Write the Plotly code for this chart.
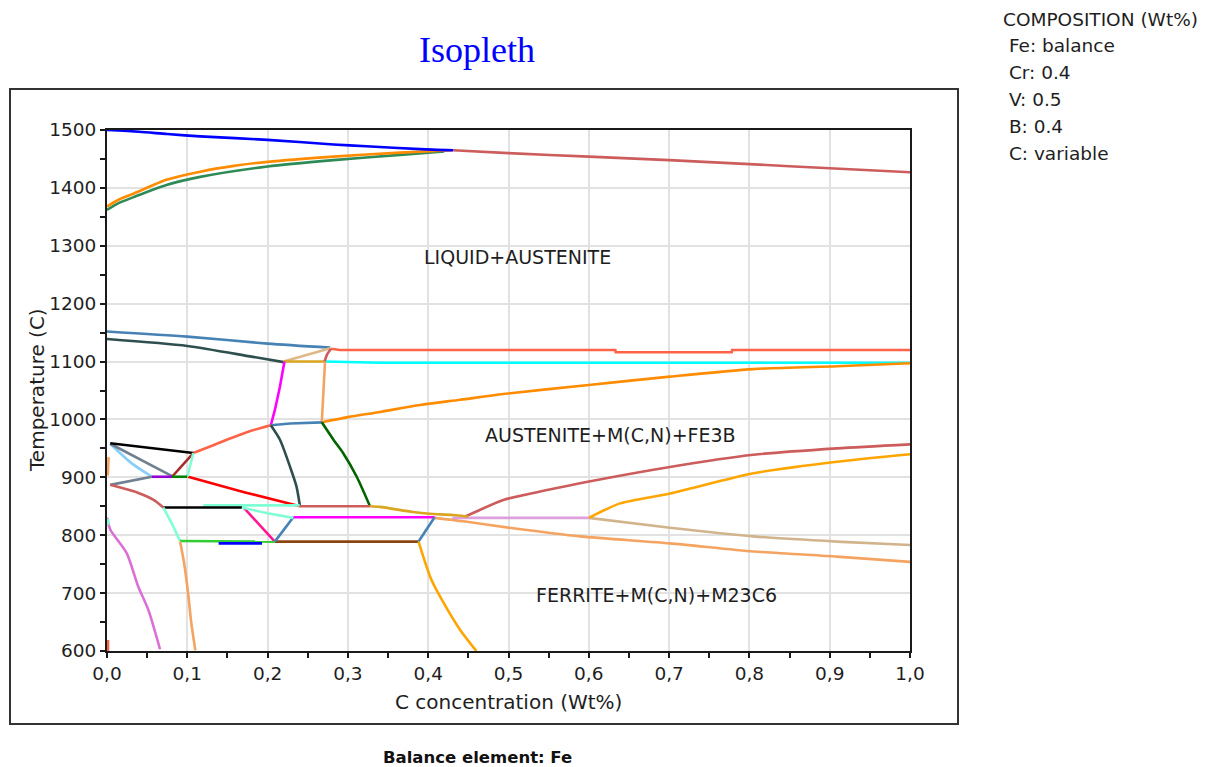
import plotly.graph_objects as go

# ---------------- data: C content (wt%) and temperature (C) per boundary ----------------
liq_top_x = [0, 0.04, 0.075, 0.116, 0.2, 0.282, 0.323, 0.39, 0.431]
liq_top_t = [1500, 1497, 1493, 1489, 1483, 1475, 1472, 1467, 1465]
liq_right_x = [0.431, 0.5, 0.6, 0.7, 0.8, 0.9, 1.0]
liq_right_t = [1465, 1460, 1454, 1448, 1441, 1434, 1427]
sol_orange_x = [0, 0.015, 0.033, 0.074, 0.116, 0.158, 0.2, 0.282, 0.365, 0.43]
sol_orange_t = [1368, 1380, 1390, 1414, 1428, 1438, 1445, 1454, 1461, 1465]
sol_green_x = [0, 0.015, 0.033, 0.074, 0.116, 0.2, 0.282, 0.365, 0.42]
sol_green_t = [1362, 1374, 1384, 1405, 1419, 1437, 1448, 1457, 1463]

upper_blue_x = [0, 0.1, 0.2, 0.278]
upper_blue_t = [1152, 1143, 1131, 1124]
upper_slate_x = [0, 0.1, 0.178, 0.22]
upper_slate_t = [1139, 1127, 1109, 1099]
upper_tan_x = [0.22, 0.249, 0.278]
upper_tan_t = [1100, 1111, 1123]
upper_gold_x = [0.22, 0.271]
upper_gold_t = [1100, 1100]
upper_red_x = [0.271, 0.274, 0.279]
upper_red_t = [1100, 1112, 1122]
upper_tomato_x = [0.279, 0.29, 0.633, 0.6335, 0.778, 0.7785, 1.0]
upper_tomato_t = [1122, 1120, 1120, 1116, 1116, 1120, 1120]
upper_cyan_x = [0.271, 0.34, 1.0]
upper_cyan_t = [1100, 1098, 1098]

mid_magenta_x = [0.221, 0.2154, 0.209, 0.204]
mid_magenta_t = [1100, 1057, 1016, 990]
mid_sandy_x = [0.2715, 0.2694, 0.2675]
mid_sandy_t = [1100, 1045, 995]
mid_blue_x = [0.204, 0.228, 0.2675]
mid_blue_t = [990, 993, 995]
mid_orange_x = [0.2675, 0.3, 0.34, 0.39, 0.44, 0.4935, 0.597, 0.701, 0.805, 0.909, 1.0]
mid_orange_t = [995, 1004, 1013, 1025, 1034, 1044, 1059, 1074, 1087, 1092, 1097]
mid_tomato_x = [0.1075, 0.13, 0.153, 0.174, 0.204]
mid_tomato_t = [942, 954, 967, 978, 990]
mid_slate_x = [0.204, 0.2154, 0.228, 0.236, 0.2403]
mid_slate_t = [990, 965, 918, 884, 850]
mid_dgreen_x = [0.2675, 0.282, 0.294, 0.311, 0.3275]
mid_dgreen_t = [995, 965, 942, 901, 850]
mid_red_x = [0.101, 0.135, 0.172, 0.2403]
mid_red_t = [901, 888, 874, 850]
mid_ired_x = [0.2403, 0.3275]
mid_ired_t = [850, 850]
mid_gold_x = [0.3275, 0.34, 0.381, 0.402, 0.431, 0.45]
mid_gold_t = [850, 849, 840, 837, 835, 832]

low_sandy_x = [0.408, 0.444, 0.506, 0.589, 0.701, 0.805, 0.909, 1.0]
low_sandy_t = [830, 824, 812, 798, 786, 772, 763, 754]
low_plum_x = [0.43, 0.6]
low_plum_t = [830, 830]
low_tan_x = [0.6, 0.701, 0.805, 0.909, 1.0]
low_tan_t = [830, 813, 798, 789, 783]
low_ired_x = [0.444, 0.46, 0.4935, 0.548, 0.597, 0.701, 0.805, 0.909, 1.0]
low_ired_t = [831, 841, 861, 878, 892, 918, 939, 950, 957]
low_orange_x = [0.6, 0.639, 0.701, 0.805, 0.909, 1.0]
low_orange_t = [830, 855, 872, 907, 927, 940]
low_magenta_x = [0.232, 0.408]
low_magenta_t = [831, 831]
low_pink_x = [0.17, 0.209]
low_pink_t = [848, 789]
low_blue1_x = [0.209, 0.232]
low_blue1_t = [789, 831]
low_blue2_x = [0.388, 0.408]
low_blue2_t = [789, 831]
low_brown_x = [0.209, 0.388]
low_brown_t = [789, 789]
low_dorange_x = [0.388, 0.404, 0.423, 0.44, 0.46]
low_dorange_t = [789, 723, 674, 636, 600]

left_aqua_h_x = [0.12, 0.24]
left_aqua_h_t = [851.5, 851.5]
left_black_h_x = [0.07, 0.168]
left_black_h_t = [848, 848]
left_aqua_d_x = [0.168, 0.2, 0.232]
left_aqua_d_t = [848, 838, 830]
left_aqua_v_x = [0.07, 0.0805, 0.091]
left_aqua_v_t = [848, 821, 790]
left_lime_x = [0.091, 0.209]
left_lime_t = [790, 789]
left_blue_x = [0.139, 0.193]
left_blue_t = [786, 786]
left_sandy_x = [0.091, 0.096, 0.101, 0.105, 0.11]
left_sandy_t = [789, 752, 700, 648, 601]
left_orchid_x = [0, 0.004, 0.0245, 0.039, 0.0515, 0.066]
left_orchid_t = [830, 810, 769, 711, 671, 603]
left_tomato_x = [0.0012, 0.0012]
left_tomato_t = [600, 619]
left_cyan_x = [0.0015, 0.0015]
left_cyan_t = [818, 828]
left_orange_x = [0.002, 0.001]
left_orange_t = [935, 903]
left_black_x = [0.004, 0.1075]
left_black_t = [959, 942]
left_sky_x = [0.004, 0.03, 0.056]
left_sky_t = [958, 925, 901]
left_slate1_x = [0.004, 0.081]
left_slate1_t = [958, 902]
left_slate2_x = [0.004, 0.056]
left_slate2_t = [887, 901]
left_violet_x = [0.056, 0.081]
left_violet_t = [901, 901]
left_green_x = [0.081, 0.1]
left_green_t = [901, 901]
left_brown_x = [0.081, 0.1075]
left_brown_t = [901, 942]
left_aqua2_x = [0.1, 0.1075]
left_aqua2_t = [901, 942]
left_ired_x = [0.004, 0.039, 0.058, 0.07]
left_ired_t = [887, 873, 861, 848]

x_tick_vals = [0.0, 0.1, 0.2, 0.3, 0.4, 0.5, 0.6, 0.7, 0.8, 0.9, 1.0]
x_tick_text = ["0,0", "0,1", "0,2", "0,3", "0,4", "0,5", "0,6", "0,7", "0,8", "0,9", "1,0"]
y_tick_vals = [600, 700, 800, 900, 1000, 1100, 1200, 1300, 1400, 1500]
y_tick_text = ["600", "700", "800", "900", "1000", "1100", "1200", "1300", "1400", "1500"]

region_labels = ["LIQUID+AUSTENITE", "AUSTENITE+M(C,N)+FE3B", "FERRITE+M(C,N)+M23C6"]
region_x = [0.5106, 0.6274, 0.684]
region_t = [1281, 973, 697]

composition_lines = ["COMPOSITION (Wt%)", " Fe: balance", " Cr: 0.4", " V: 0.5", " B: 0.4", " C: variable"]

# ---------------- styles: (x, t, colour, smooth) ----------------
curves = [
    (liq_right_x, liq_right_t, "#CD5C5C", True),
    (sol_green_x, sol_green_t, "#2E8B57", True),
    (sol_orange_x, sol_orange_t, "#FF8C00", True),
    (liq_top_x, liq_top_t, "#0000FF", True),
    (upper_blue_x, upper_blue_t, "#4682B4", True),
    (upper_slate_x, upper_slate_t, "#2F4F4F", True),
    (upper_tan_x, upper_tan_t, "#DEB887", False),
    (upper_gold_x, upper_gold_t, "#DAA520", False),
    (upper_tomato_x, upper_tomato_t, "#FF6347", False),
    (upper_cyan_x, upper_cyan_t, "#00FFFF", False),
    (upper_red_x, upper_red_t, "#CD5C5C", True),
    (mid_orange_x, mid_orange_t, "#FF8C00", True),
    (mid_magenta_x, mid_magenta_t, "#FF00FF", False),
    (mid_sandy_x, mid_sandy_t, "#F4A460", False),
    (mid_blue_x, mid_blue_t, "#4682B4", False),
    (mid_tomato_x, mid_tomato_t, "#FF6347", True),
    (mid_slate_x, mid_slate_t, "#2F4F4F", True),
    (mid_dgreen_x, mid_dgreen_t, "#006400", True),
    (mid_red_x, mid_red_t, "#FF0000", False),
    (mid_ired_x, mid_ired_t, "#CD5C5C", False),
    (low_sandy_x, low_sandy_t, "#F4A460", True),
    (low_tan_x, low_tan_t, "#D2B48C", True),
    (low_ired_x, low_ired_t, "#CD5C5C", True),
    (low_orange_x, low_orange_t, "#FFA500", True),
    (low_plum_x, low_plum_t, "#DDA0DD", False),
    (mid_gold_x, mid_gold_t, "#DAA520", True),
    (low_magenta_x, low_magenta_t, "#FF00FF", False),
    (low_brown_x, low_brown_t, "#8B4513", False),
    (low_pink_x, low_pink_t, "#FF1493", False),
    (low_blue1_x, low_blue1_t, "#4682B4", False),
    (low_blue2_x, low_blue2_t, "#4682B4", False),
    (low_dorange_x, low_dorange_t, "#FFA500", True),
    (left_aqua_h_x, left_aqua_h_t, "#7FFFD4", False),
    (left_black_h_x, left_black_h_t, "#000000", False),
    (left_aqua_d_x, left_aqua_d_t, "#7FFFD4", True),
    (left_aqua_v_x, left_aqua_v_t, "#7FFFD4", False),
    (left_lime_x, left_lime_t, "#32CD32", False),
    (left_blue_x, left_blue_t, "#0000FF", False),
    (left_sandy_x, left_sandy_t, "#F4A460", True),
    (left_orchid_x, left_orchid_t, "#DA70D6", True),
    (left_tomato_x, left_tomato_t, "#FF6347", False),
    (left_cyan_x, left_cyan_t, "#7FFFD4", False),
    (left_orange_x, left_orange_t, "#F4A460", False),
    (left_sky_x, left_sky_t, "#87CEFA", True),
    (left_slate1_x, left_slate1_t, "#708090", False),
    (left_slate2_x, left_slate2_t, "#708090", False),
    (left_ired_x, left_ired_t, "#CD5C5C", True),
    (left_black_x, left_black_t, "#000000", False),
    (left_brown_x, left_brown_t, "#A52A2A", False),
    (left_aqua2_x, left_aqua2_t, "#7FFFD4", False),
    (left_violet_x, left_violet_t, "#9400D3", False),
    (left_green_x, left_green_t, "#008000", False),
]

FONT = "DejaVu Sans"
TXT = "#1E1E1E"

fig = go.Figure()
for xs, ts, col, smooth in curves:
    line = dict(color=col, width=2.6)
    if smooth:
        line.update(shape="spline", smoothing=0.7)
    fig.add_trace(go.Scatter(x=xs, y=ts, mode="lines", line=line,
                             showlegend=False, hoverinfo="skip", cliponaxis=True))

for lab, lx, lt in zip(region_labels, region_x, region_t):
    fig.add_annotation(x=lx, y=lt, xref="x", yref="y", text=lab, showarrow=False,
                       xanchor="center", yanchor="middle",
                       font=dict(family=FONT, size=19, color=TXT))

# title, axis titles, footer (paper coords relative to the plot area)
fig.add_annotation(x=0.4608, y=1.1536, xref="paper", yref="paper", text="Isopleth", showarrow=False,
                   xanchor="center", yanchor="middle",
                   font=dict(family="Liberation Serif", size=36, color="#0000FF"))
fig.add_annotation(x=0.4994, y=-0.0979, xref="paper", yref="paper", text="C concentration (Wt%)",
                   showarrow=False, xanchor="center", yanchor="middle",
                   font=dict(family=FONT, size=20, color=TXT))
fig.add_annotation(x=-0.0872, y=0.501, xref="paper", yref="paper", text="Temperature (C)", textangle=-90,
                   showarrow=False, xanchor="center", yanchor="middle",
                   font=dict(family=FONT, size=20, color=TXT))
fig.add_annotation(x=0.462, y=-0.2035, xref="paper", yref="paper", text="<b>Balance element: Fe</b>",
                   showarrow=False, xanchor="center", yanchor="middle",
                   font=dict(family=FONT, size=16.5, color="#111111"))

for i, line in enumerate(composition_lines):
    py = 19 + i * 26.8
    fig.add_annotation(x=(1001 - 107) / 803, y=(651 - py) / 521, xref="paper", yref="paper",
                       text=line, showarrow=False, xanchor="left", yanchor="middle",
                       font=dict(family=FONT, size=18.5, color=TXT))

# outer frame
fig.add_shape(type="rect", xref="paper", yref="paper",
              x0=(10 - 107) / 803, x1=(958 - 107) / 803, y0=(651 - 724) / 521, y1=(651 - 89) / 521,
              line=dict(color="#333333", width=2), fillcolor="rgba(0,0,0,0)", layer="below")

axis_common = dict(showline=True, linecolor="#1A1A1A", linewidth=1.8, mirror=True,
                   showgrid=True, gridcolor="#E2E2E2", gridwidth=1.5, zeroline=False,
                   ticks="outside", ticklen=5, tickwidth=1.6, tickcolor="#1A1A1A",
                   tickfont=dict(family=FONT, size=18.5, color=TXT))

fig.update_xaxes(range=[0, 1], tickvals=x_tick_vals, ticktext=x_tick_text,
                 minor=dict(dtick=0.05, tick0=0, ticks="outside", ticklen=5, tickwidth=1.6,
                            tickcolor="#1A1A1A", showgrid=False), **axis_common)
fig.update_yaxes(range=[600, 1500], tickvals=y_tick_vals, ticktext=y_tick_text,
                 minor=dict(dtick=50, tick0=600, ticks="outside", ticklen=5, tickwidth=1.6,
                            tickcolor="#1A1A1A", showgrid=False), **axis_common)

# the page body adds an 8px offset, so the figure is 8px smaller and margins shifted
fig.update_layout(width=1199, height=759, autosize=False,
                  margin=dict(l=99, r=297, t=122, b=116),
                  paper_bgcolor="white", plot_bgcolor="white")

fig.write_html("out.html")
